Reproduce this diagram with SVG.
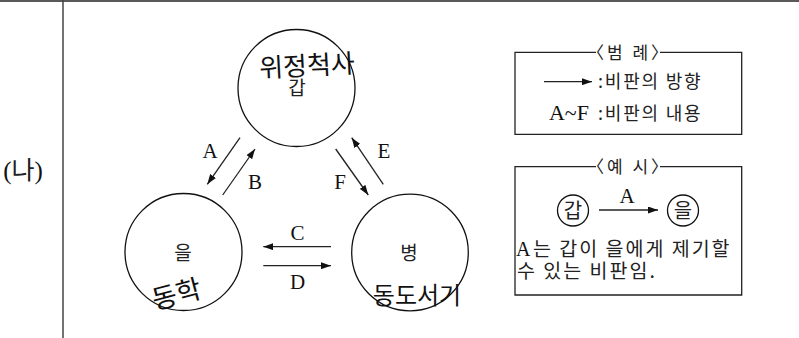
<svg xmlns="http://www.w3.org/2000/svg" width="799" height="338" viewBox="0 0 799 338">
<style>
.ln{stroke:#222;stroke-width:1.3;fill:none}
.node{fill:none;stroke:#111;stroke-width:1.3}
.ko{font-family:"Noto Sans CJK KR","Noto Sans",sans-serif;fill:#222}
.se{font-family:"Liberation Serif","DejaVu Serif",serif;fill:#111}
.hw{font-family:"Noto Sans CJK KR",sans-serif;fill:#111}
.lbl{font-size:21px;text-anchor:middle}
</style>
<defs>
<marker id="ah" viewBox="0 0 10 7" refX="10" refY="3.5" markerWidth="10" markerHeight="7" markerUnits="userSpaceOnUse" orient="auto">
<path d="M0,0 L10,3.5 L0,7 z" fill="#111"/>
</marker>
</defs>
<rect width="799" height="338" fill="#fff"/>
<g id="frame">
<line x1="0" y1="1" x2="799" y2="1" stroke="#222" stroke-width="1.5"/>
<line x1="63" y1="0" x2="63" y2="338" stroke="#444" stroke-width="1.5"/>
<text x="23" y="179" class="ko" font-size="25" text-anchor="middle"><tspan class="se">(</tspan>나<tspan class="se">)</tspan></text>
</g>
<g id="node-gap">
<circle cx="296.5" cy="88" r="58.5" class="node"/>
<text x="297" y="95" class="ko" font-size="19" text-anchor="middle" fill="#333">갑</text>
<text x="307" y="75" class="hw" font-size="26" text-anchor="middle" transform="rotate(-3 307 66)">위정척사</text>
</g>
<g id="node-eul">
<circle cx="183.5" cy="252" r="58.5" class="node"/>
<text x="183" y="260" class="ko" font-size="19" text-anchor="middle" fill="#333">을</text>
<text x="176" y="304" class="hw" font-size="27" text-anchor="middle" transform="rotate(-15 176 292)">동학</text>
</g>
<g id="node-byeong">
<circle cx="410" cy="252.5" r="58.3" class="node"/>
<text x="409" y="260" class="ko" font-size="19" text-anchor="middle" fill="#333">병</text>
<text x="417" y="304" class="hw" font-size="24" text-anchor="middle">동도서기</text>
</g>
<g id="connectors">
<line x1="240" y1="137.7" x2="207.3" y2="184.3" class="ln" marker-end="url(#ah)"/>
<line x1="222.7" y1="195" x2="255" y2="149" class="ln" marker-end="url(#ah)"/>
<line x1="335.7" y1="149" x2="368.3" y2="195" class="ln" marker-end="url(#ah)"/>
<line x1="383.3" y1="184.3" x2="351.7" y2="137.7" class="ln" marker-end="url(#ah)"/>
<line x1="331" y1="246.7" x2="263.3" y2="246.7" class="ln" marker-end="url(#ah)"/>
<line x1="263.3" y1="265.7" x2="331" y2="265.7" class="ln" marker-end="url(#ah)"/>
<text x="210" y="158" class="se lbl">A</text>
<text x="255" y="189" class="se lbl">B</text>
<text x="340" y="189" class="se lbl">F</text>
<text x="384" y="158" class="se lbl">E</text>
<text x="297.5" y="240" class="se lbl">C</text>
<text x="297.5" y="289" class="se lbl">D</text>
</g>
<g id="legend">
<path d="M596,52.3 H515 V134.3 H741.7 V52.3 H660" class="ln"/>
<text x="629" y="58.5" class="ko" font-size="17" text-anchor="middle" letter-spacing="3">〈범 례〉</text>
<line x1="544" y1="81.7" x2="592" y2="81.7" class="ln" marker-end="url(#ah)"/>
<text x="598" y="88" class="ko" font-size="18" letter-spacing="1.8">:비판의 방향</text>
<text x="569" y="120" class="se" font-size="22" text-anchor="middle">A~F</text>
<text x="598" y="120" class="ko" font-size="18" letter-spacing="1.8">:비판의 내용</text>
</g>
<g id="example">
<path d="M596,166.7 H515 V295 H741.7 V166.7 H660" class="ln"/>
<text x="629" y="173" class="ko" font-size="17" text-anchor="middle" letter-spacing="3">〈예 시〉</text>
<circle cx="573" cy="210.5" r="15.5" class="node"/>
<text x="573" y="217.5" class="ko" font-size="20" text-anchor="middle">갑</text>
<line x1="599" y1="210" x2="658" y2="210" class="ln" marker-end="url(#ah)"/>
<text x="627" y="203" class="se" font-size="21" text-anchor="middle">A</text>
<circle cx="683" cy="210.5" r="15.5" class="node"/>
<text x="683" y="217.5" class="ko" font-size="20" text-anchor="middle">을</text>
<text x="516" y="256" class="se" font-size="20">A</text>
<text x="533" y="256" class="ko" font-size="19.5" letter-spacing="2">는 갑이 을에게 제기할</text>
<text x="517" y="278" class="ko" font-size="19.5" letter-spacing="2">수 있는 비판임.</text>
</g>
</svg>
